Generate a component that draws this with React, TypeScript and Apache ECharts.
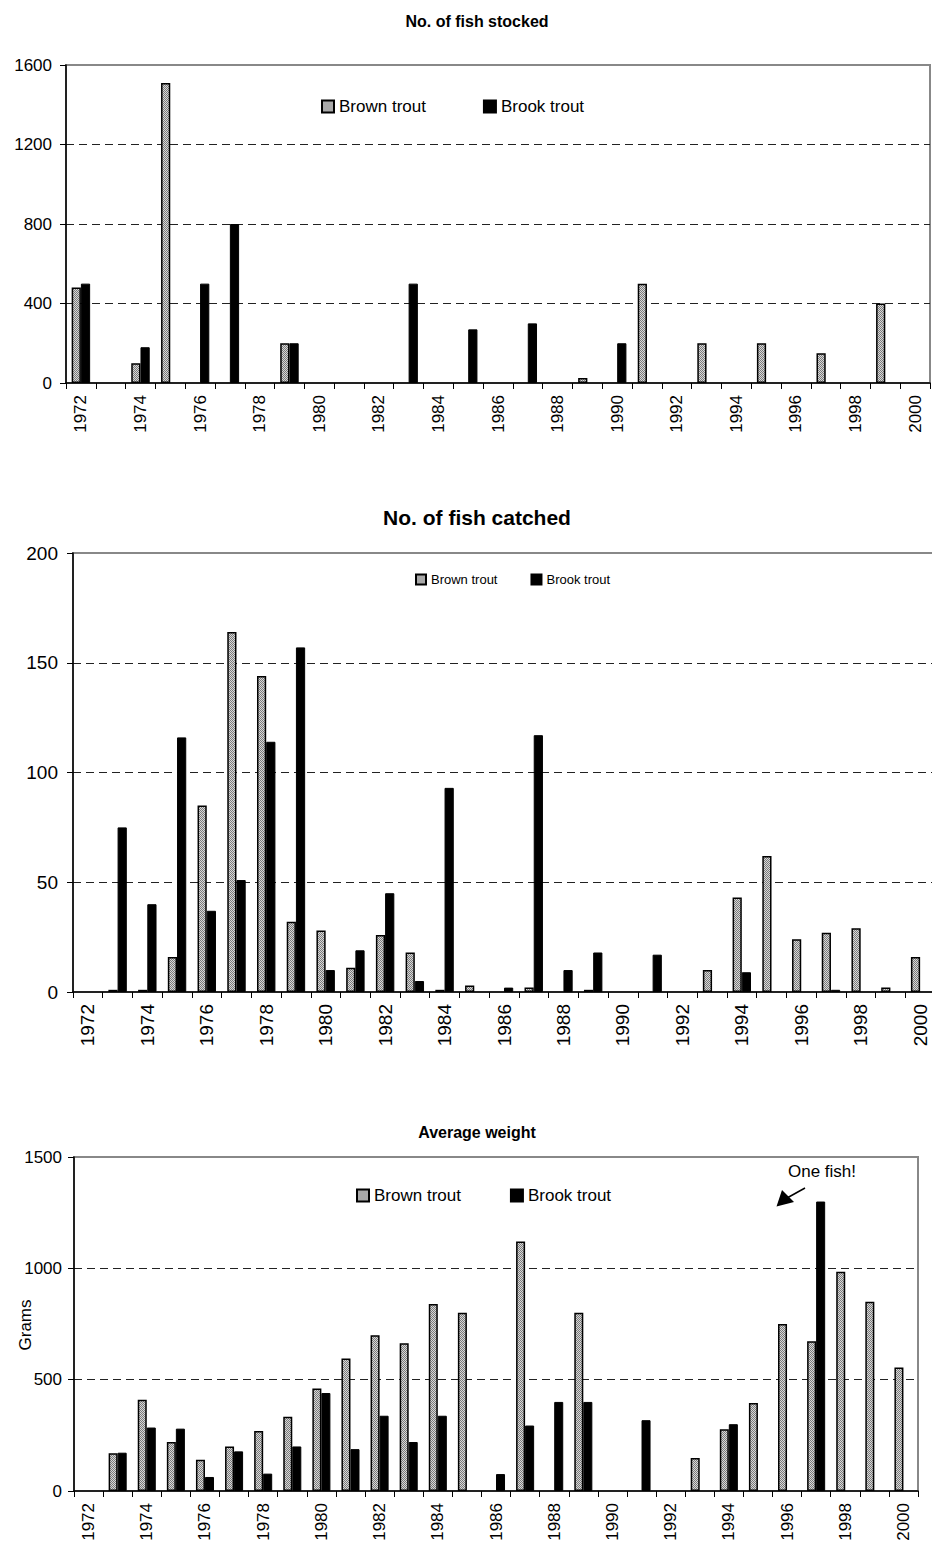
import React, { useEffect, useRef } from "react";
import * as echarts from "echarts";

const years = ["1972","1973","1974","1975","1976","1977","1978","1979","1980","1981","1982","1983","1984","1985","1986","1987","1988","1989","1990","1991","1992","1993","1994","1995","1996","1997","1998","1999","2000"];

const stockedBrown = [480,null,100,1510,null,null,null,200,null,null,null,null,null,null,null,null,null,25,null,500,null,200,null,200,null,150,null,400,null];
const stockedBrook = [500,null,180,null,500,800,null,200,null,null,null,500,null,270,null,300,null,null,200,null,null,null,null,null,null,null,null,null,null];

const catchedBrown = [null,1,1,16,85,164,144,32,28,11,26,18,1,3,null,2,null,1,null,null,null,10,43,62,24,27,29,2,16];
const catchedBrook = [null,75,40,116,37,51,114,157,10,19,45,5,93,null,2,117,10,18,null,17,null,null,9,null,null,1,null,null,null];

const weightBrown = [null,170,410,220,140,200,270,333,460,595,700,663,840,800,null,1120,null,800,null,null,null,148,277,395,750,673,985,850,555];
const weightBrook = [null,172,285,280,63,178,78,200,440,188,338,220,338,null,76,294,400,400,null,318,null,null,300,null,null,1300,null,null,null];

const seriesNames = ["Brown trout", "Brook trout"];
const titles = ["No. of fish stocked", "No. of fish catched", "Average weight"];

const FONT = "'Liberation Sans', Arial, sans-serif";

export default function App() {
  const ref = useRef<HTMLDivElement>(null);
  useEffect(() => {
    document.body.style.margin = "0";
    if (!ref.current) return;
    const chart = echarts.init(ref.current, undefined, { renderer: "svg" });

    const cv = document.createElement("canvas");
    cv.width = 2; cv.height = 2;
    const ctx = cv.getContext("2d")!;
    ctx.fillStyle = "#d8d8d8"; ctx.fillRect(0, 0, 2, 2);
    ctx.fillStyle = "#7a7a7a"; ctx.fillRect(0, 0, 1, 1); ctx.fillRect(1, 1, 1, 1);
    const brownFill: any = { image: cv, repeat: "repeat" };

    const grids = [
      { left: 66, top: 65, right: 2, height: 318 },
      { left: 73, top: 553, right: -3, height: 439 },
      { left: 74, top: 1157, right: 14, height: 334 },
    ];
    const yCfg = [
      { max: 1600, interval: 400, fs: 17, margin: 14 },
      { max: 200, interval: 50, fs: 19, margin: 15 },
      { max: 1500, interval: 500, fs: 17, margin: 12 },
    ];
    const xFs = [17, 19, 17];

    const xAxis = grids.map((_, i) => ({
      type: "category",
      gridIndex: i,
      data: years,
      boundaryGap: true,
      axisLine: { lineStyle: { color: "#000", width: 1.5 } },
      axisTick: { show: true, interval: 0, length: 6, lineStyle: { color: "#000" } },
      axisLabel: { interval: 1, rotate: 90, margin: 12, color: "#000", fontSize: xFs[i], fontFamily: FONT },
      splitLine: { show: false },
    }));

    const yAxis = yCfg.map((c, i) => ({
      type: "value",
      gridIndex: i,
      min: 0,
      max: c.max,
      interval: c.interval,
      axisLine: { show: true, lineStyle: { color: "#000", width: 1.5 } },
      axisTick: { show: true, length: 6, lineStyle: { color: "#000" } },
      axisLabel: { color: "#000", fontSize: c.fs, margin: c.margin, fontFamily: FONT, formatter: (v: number) => String(v) },
      splitLine: { show: true, showMinLine: false, showMaxLine: false, lineStyle: { color: "#222", width: 1, type: [8, 5] } },
    }));

    const dataSets = [
      [stockedBrown, stockedBrook],
      [catchedBrown, catchedBrook],
      [weightBrown, weightBrook],
    ];

    const series: any[] = [];
    dataSets.forEach((pair, i) => {
      pair.forEach((vals, j) => {
        series.push({
          type: "bar",
          name: seriesNames[j],
          xAxisIndex: i,
          yAxisIndex: i,
          data: vals.map((v) => (v === null ? "-" : v)),
          barGap: "0%",
          barCategoryGap: "38%",
          itemStyle: j === 0
            ? { color: brownFill, borderColor: "#000", borderWidth: 1.5 }
            : { color: "#000", borderColor: "#000", borderWidth: 1 },
        });
      });
    });

    const legendBase = {
      data: seriesNames,
      selectedMode: false,
      icon: "rect",
      padding: 0,
      orient: "horizontal",
    };

    chart.setOption({
      animation: false,
      backgroundColor: "#fff",
      textStyle: { fontFamily: FONT },
      title: [
        { text: titles[0], left: 477, top: 13, textAlign: "center", padding: 0, textStyle: { fontSize: 16, fontWeight: "bold", color: "#000", fontFamily: FONT } },
        { text: titles[1], left: 477, top: 507, textAlign: "center", padding: 0, textStyle: { fontSize: 21, fontWeight: "bold", color: "#000", fontFamily: FONT } },
        { text: titles[2], left: 477, top: 1124, textAlign: "center", padding: 0, textStyle: { fontSize: 16, fontWeight: "bold", color: "#000", fontFamily: FONT } },
      ],
      legend: [
        { ...legendBase, left: 321, top: 98, itemWidth: 12, itemHeight: 12, itemGap: 57, textStyle: { fontSize: 17, color: "#000", fontFamily: FONT } },
        { ...legendBase, left: 415, top: 573, itemWidth: 10, itemHeight: 10, itemGap: 33, textStyle: { fontSize: 13, color: "#000", fontFamily: FONT } },
        { ...legendBase, left: 356, top: 1187, itemWidth: 12, itemHeight: 12, itemGap: 49, textStyle: { fontSize: 17, color: "#000", fontFamily: FONT } },
      ],
      grid: grids.map((g) => ({ ...g, show: true, borderColor: "#888", borderWidth: 2, backgroundColor: "#fff", containLabel: false, outerBoundsMode: "none" })),
      xAxis,
      yAxis,
      series,
      graphic: [
        { type: "text", x: 25, y: 1325, rotation: Math.PI / 2, style: { text: "Grams", fontSize: 17, fontFamily: FONT, fill: "#000", align: "center", verticalAlign: "middle" } },
        { type: "text", x: 822, y: 1171, style: { text: "One fish!", fontSize: 17, fontFamily: FONT, fill: "#000", align: "center", verticalAlign: "middle" } },
        { type: "line", shape: { x1: 805, y1: 1188, x2: 787, y2: 1198 }, style: { stroke: "#000", lineWidth: 1.5 } },
        { type: "polygon", shape: { points: [[776.5, 1206.5], [782, 1190], [794, 1202]] }, style: { fill: "#000" } },
      ],
    });

    return () => chart.dispose();
  }, []);

  return <div ref={ref} style={{ width: 932, height: 1548 }} />;
}
